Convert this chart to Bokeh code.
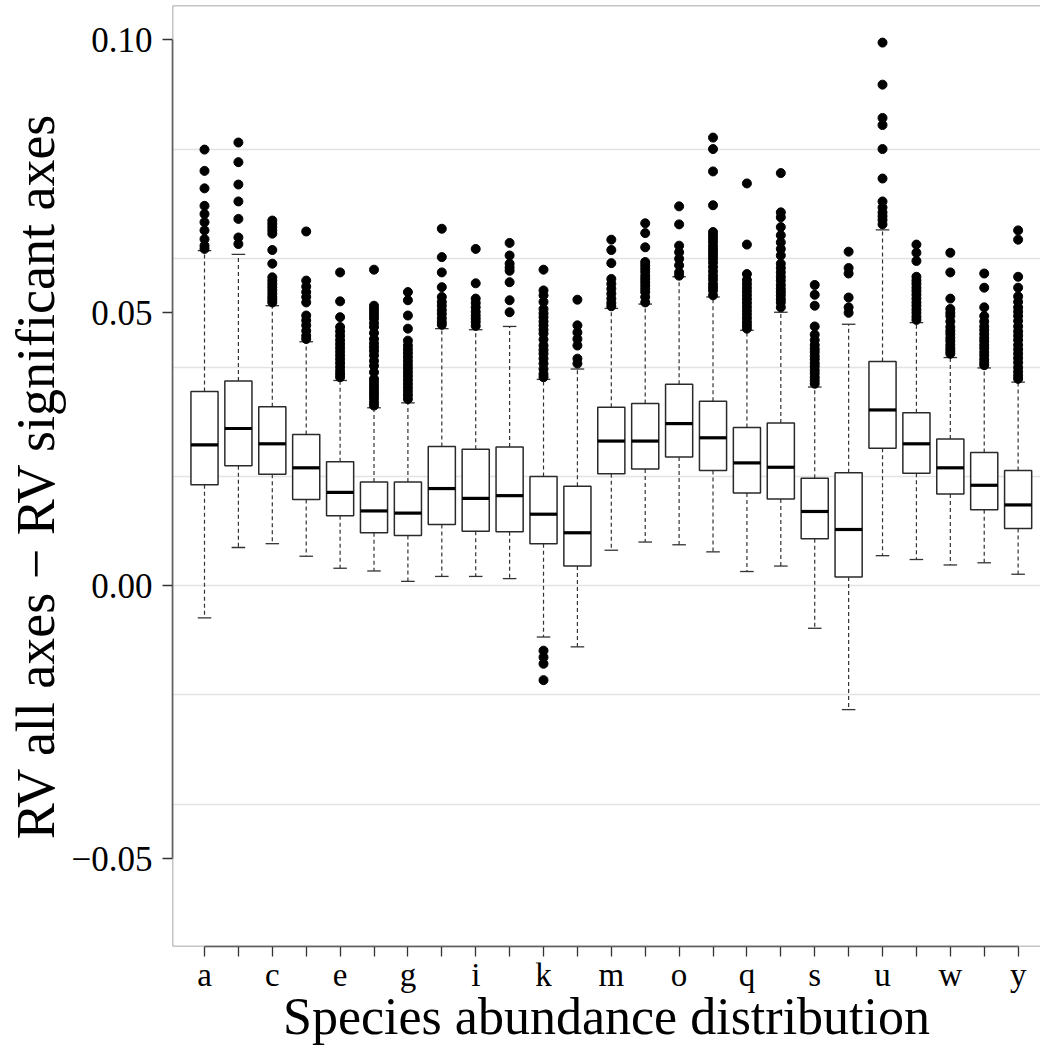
from bokeh.plotting import figure
from bokeh.models import FixedTicker, CustomJSTickFormatter, Span, Range1d
from bokeh.embed import file_html
from bokeh.resources import INLINE

categories = list("abcdefghijklmnopqrstuvwxy")
x_tick_labels = ["a", "", "c", "", "e", "", "g", "", "i", "", "k", "", "m",
                 "", "o", "", "q", "", "s", "", "u", "", "w", "", "y"]

q1 = [0.0185, 0.0220, 0.0204, 0.0158, 0.0128, 0.0097, 0.0092, 0.0112, 0.0100,
      0.0099, 0.0077, 0.0036, 0.0205, 0.0214, 0.0236, 0.0211, 0.0170, 0.0159,
      0.0086, 0.0016, 0.0252, 0.0206, 0.0168, 0.0139, 0.0105]
medians = [0.0258, 0.0288, 0.0260, 0.0216, 0.0171, 0.0137, 0.0133, 0.0178, 0.0160,
           0.0165, 0.0131, 0.0097, 0.0265, 0.0265, 0.0297, 0.0271, 0.0225, 0.0217,
           0.0136, 0.0103, 0.0322, 0.0260, 0.0216, 0.0184, 0.0148]
q3 = [0.0356, 0.0375, 0.0328, 0.0277, 0.0227, 0.0190, 0.0190, 0.0255, 0.0250,
      0.0254, 0.0200, 0.0182, 0.0327, 0.0334, 0.0369, 0.0338, 0.0290, 0.0298,
      0.0197, 0.0207, 0.0411, 0.0317, 0.0269, 0.0244, 0.0211]
whisker_low = [-0.0059, 0.0070, 0.0077, 0.0054, 0.0032, 0.0027, 0.0008, 0.0017, 0.0017,
               0.0013, -0.0094, -0.0112, 0.0065, 0.0080, 0.0075, 0.0062, 0.0026, 0.0036,
               -0.0078, -0.0227, 0.0055, 0.0048, 0.0038, 0.0042, 0.0021]
whisker_high = [0.0614, 0.0607, 0.0513, 0.0447, 0.0376, 0.0326, 0.0335, 0.0471, 0.0469,
                0.0475, 0.0378, 0.0397, 0.0508, 0.0516, 0.0566, 0.0529, 0.0468, 0.0501,
                0.0364, 0.0479, 0.0652, 0.0482, 0.0418, 0.0399, 0.0373]

outliers = [
    [0.0799, 0.0760, 0.0728, 0.0696, 0.0681, 0.0666, 0.0651, 0.0635, 0.0623, 0.0617],
    [0.0812, 0.0776, 0.0735, 0.0704, 0.0672, 0.0638, 0.0626],
    [0.0669, 0.0663, 0.0657, 0.0651, 0.0645, 0.0615, 0.0590, 0.0565, 0.0559, 0.0553,
     0.0547, 0.0541, 0.0535, 0.0529, 0.0524, 0.0519],
    [0.0649, 0.0559, 0.0548, 0.0538, 0.0529, 0.0519, 0.0495, 0.0486, 0.0477, 0.0467,
     0.0458, 0.0452],
    [0.0574, 0.0521, 0.0492, 0.0474, 0.0466, 0.0458, 0.0450, 0.0443, 0.0436, 0.0429,
     0.0422, 0.0415, 0.0408, 0.0401, 0.0394, 0.0388, 0.0382],
    [0.0579, 0.0513, 0.0507, 0.0501, 0.0495, 0.0489, 0.0481, 0.0474, 0.0463, 0.0452,
     0.0444, 0.0437, 0.0430, 0.0422, 0.0412, 0.0403, 0.0391, 0.0379, 0.0373, 0.0367,
     0.0361, 0.0355, 0.0349, 0.0343, 0.0336, 0.0330],
    [0.0538, 0.0523, 0.0495, 0.0471, 0.0449, 0.0440, 0.0433, 0.0426, 0.0419, 0.0412,
     0.0405, 0.0398, 0.0391, 0.0384, 0.0377, 0.0370, 0.0363, 0.0356, 0.0349, 0.0342],
    [0.0654, 0.0602, 0.0574, 0.0547, 0.0529, 0.0520, 0.0513, 0.0505, 0.0498, 0.0490,
     0.0483, 0.0478],
    [0.0617, 0.0554, 0.0526, 0.0518, 0.0510, 0.0502, 0.0495, 0.0489, 0.0483, 0.0476],
    [0.0628, 0.0605, 0.0590, 0.0583, 0.0577, 0.0556, 0.0523, 0.0501],
    [0.0579, 0.0541, 0.0532, 0.0520, 0.0507, 0.0499, 0.0492, 0.0484, 0.0477, 0.0469,
     0.0462, 0.0451, 0.0440, 0.0432, 0.0425, 0.0416, 0.0407, 0.0397, 0.0388, 0.0382,
     -0.0119, -0.0131, -0.0143, -0.0173],
    [0.0524, 0.0477, 0.0464, 0.0452, 0.0440, 0.0416, 0.0407],
    [0.0634, 0.0615, 0.0591, 0.0562, 0.0553, 0.0544, 0.0535, 0.0526, 0.0518, 0.0512],
    [0.0664, 0.0646, 0.0620, 0.0593, 0.0587, 0.0581, 0.0575, 0.0568, 0.0562, 0.0556,
     0.0550, 0.0544, 0.0538, 0.0529, 0.0519],
    [0.0695, 0.0662, 0.0623, 0.0611, 0.0599, 0.0587, 0.0574, 0.0568],
    [0.0821, 0.0800, 0.0759, 0.0697, 0.0648, 0.0642, 0.0636, 0.0630, 0.0623, 0.0617,
     0.0611, 0.0605, 0.0599, 0.0592, 0.0584, 0.0576, 0.0568, 0.0561, 0.0553, 0.0547,
     0.0541, 0.0532],
    [0.0737, 0.0625, 0.0571, 0.0560, 0.0553, 0.0546, 0.0539, 0.0532, 0.0525, 0.0518,
     0.0511, 0.0504, 0.0497, 0.0490, 0.0483, 0.0477, 0.0471],
    [0.0756, 0.0684, 0.0675, 0.0657, 0.0642, 0.0629, 0.0617, 0.0605, 0.0590, 0.0582,
     0.0574, 0.0566, 0.0559, 0.0551, 0.0544, 0.0538, 0.0532, 0.0525, 0.0519, 0.0510],
    [0.0551, 0.0533, 0.0513, 0.0475, 0.0460, 0.0450, 0.0441, 0.0434, 0.0428, 0.0421,
     0.0415, 0.0408, 0.0402, 0.0395, 0.0389, 0.0382, 0.0376, 0.0370],
    [0.0612, 0.0582, 0.0572, 0.0528, 0.0510, 0.0500],
    [0.0995, 0.0918, 0.0857, 0.0844, 0.0800, 0.0746, 0.0704, 0.0693, 0.0684, 0.0677,
     0.0670, 0.0662],
    [0.0625, 0.0610, 0.0595, 0.0566, 0.0559, 0.0553, 0.0546, 0.0540, 0.0533, 0.0526,
     0.0519, 0.0513, 0.0506, 0.0500, 0.0493, 0.0487],
    [0.0610, 0.0574, 0.0526, 0.0507, 0.0500, 0.0494, 0.0484, 0.0474, 0.0467, 0.0461,
     0.0454, 0.0448, 0.0441, 0.0435, 0.0430, 0.0425],
    [0.0572, 0.0546, 0.0510, 0.0494, 0.0484, 0.0475, 0.0468, 0.0461, 0.0454, 0.0448,
     0.0441, 0.0435, 0.0428, 0.0422, 0.0415, 0.0409, 0.0404],
    [0.0651, 0.0634, 0.0566, 0.0546, 0.0530, 0.0520, 0.0510, 0.0502, 0.0494, 0.0485,
     0.0475, 0.0466, 0.0458, 0.0450, 0.0441, 0.0433, 0.0425, 0.0417, 0.0409, 0.0400,
     0.0392, 0.0385, 0.0379],
]

y_ticks = [-0.05, 0.0, 0.05, 0.10]
grid_values = [-0.04, -0.02, 0.0, 0.02, 0.04, 0.06, 0.08]
x_title = "Species abundance distribution"
y_title = "RV all axes \u2212 RV significant axes"

FONT = "Liberation Serif"
X_START, X_END = 0.056, 25.66
Y_START, Y_END = -0.0661, 0.1063

xs = list(range(1, len(categories) + 1))
box_half = 0.4
cap_half = 0.2

p = figure(width=1040, height=1048, output_backend="svg", toolbar_location=None,
           x_range=Range1d(X_START, X_END), y_range=Range1d(Y_START, Y_END),
           min_border_left=172, min_border_right=0, min_border_top=5,
           min_border_bottom=102)
p.outline_line_color = None
p.background_fill_color = "white"
p.border_fill_color = "white"

# grid
p.xgrid.grid_line_color = None
p.ygrid.ticker = FixedTicker(ticks=grid_values)
p.ygrid.grid_line_color = "#e3e3e3"
p.ygrid.grid_line_width = 1.5

# frame (light grey) lines
for sp in [Span(location=Y_END, dimension="width"),
           Span(location=Y_START, dimension="width"),
           Span(location=X_START, dimension="height")]:
    sp.line_color = "#8c8c8c"
    sp.line_width = 1.5
    p.add_layout(sp)

# whiskers
p.segment(x0=xs, x1=xs, y0=q3, y1=whisker_high, line_color="#333333",
          line_width=1.2, line_dash="4 3")
p.segment(x0=xs, x1=xs, y0=q1, y1=whisker_low, line_color="#333333",
          line_width=1.2, line_dash="4 3")
# caps
p.segment(x0=[x - cap_half for x in xs], x1=[x + cap_half for x in xs],
          y0=whisker_high, y1=whisker_high, line_color="#333333", line_width=1.3)
p.segment(x0=[x - cap_half for x in xs], x1=[x + cap_half for x in xs],
          y0=whisker_low, y1=whisker_low, line_color="#333333", line_width=1.3)
# boxes
p.vbar(x=xs, width=2 * box_half, bottom=q1, top=q3, fill_color="white",
       line_color="#2a2a2a", line_width=1.5)
# medians
p.segment(x0=[x - box_half for x in xs], x1=[x + box_half for x in xs],
          y0=medians, y1=medians, line_color="black", line_width=3.2)
# outliers
ox, oy = [], []
for x, vals in zip(xs, outliers):
    for v in vals:
        ox.append(x)
        oy.append(v)
p.scatter(x=ox, y=oy, size=9, fill_color="black", line_color="black")

# axes
p.xaxis.ticker = FixedTicker(ticks=xs)
p.xaxis.formatter = CustomJSTickFormatter(args=dict(labels=x_tick_labels),
                                          code="return labels[Math.round(tick) - 1];")
p.xaxis.bounds = (1, len(categories))
p.yaxis.ticker = FixedTicker(ticks=y_ticks)
p.yaxis.formatter = CustomJSTickFormatter(
    code="var s = Math.abs(tick).toFixed(2); return (tick < -1e-9 ? '\u2212' : '') + s;")
p.yaxis.bounds = (min(y_ticks), max(y_ticks))

for ax in (p.xaxis[0], p.yaxis[0]):
    ax.axis_line_color = "#333333"
    ax.axis_line_width = 1.5
    ax.major_tick_line_color = "#333333"
    ax.major_tick_line_width = 1.3
    ax.major_tick_out = 10
    ax.major_tick_in = 0
    ax.minor_tick_line_color = None
    ax.major_label_text_font = FONT
    ax.major_label_text_color = "black"
    ax.axis_label_text_font = FONT
    ax.axis_label_text_font_style = "normal"
    ax.axis_label_text_color = "black"

p.xaxis.major_label_text_font_size = "33px"
p.yaxis.major_label_text_font_size = "35px"
p.xaxis.axis_label_text_font_size = "52px"
p.yaxis.axis_label_text_font_size = "54px"

p.xaxis.axis_label = x_title
p.yaxis.axis_label = y_title
p.xaxis.major_label_standoff = 0
p.xaxis.axis_label_standoff = -8
p.yaxis.major_label_standoff = 10
p.yaxis.axis_label_standoff = 3
p.yaxis.major_label_orientation = "horizontal"

open("out.html", "w").write(file_html(p, INLINE))
